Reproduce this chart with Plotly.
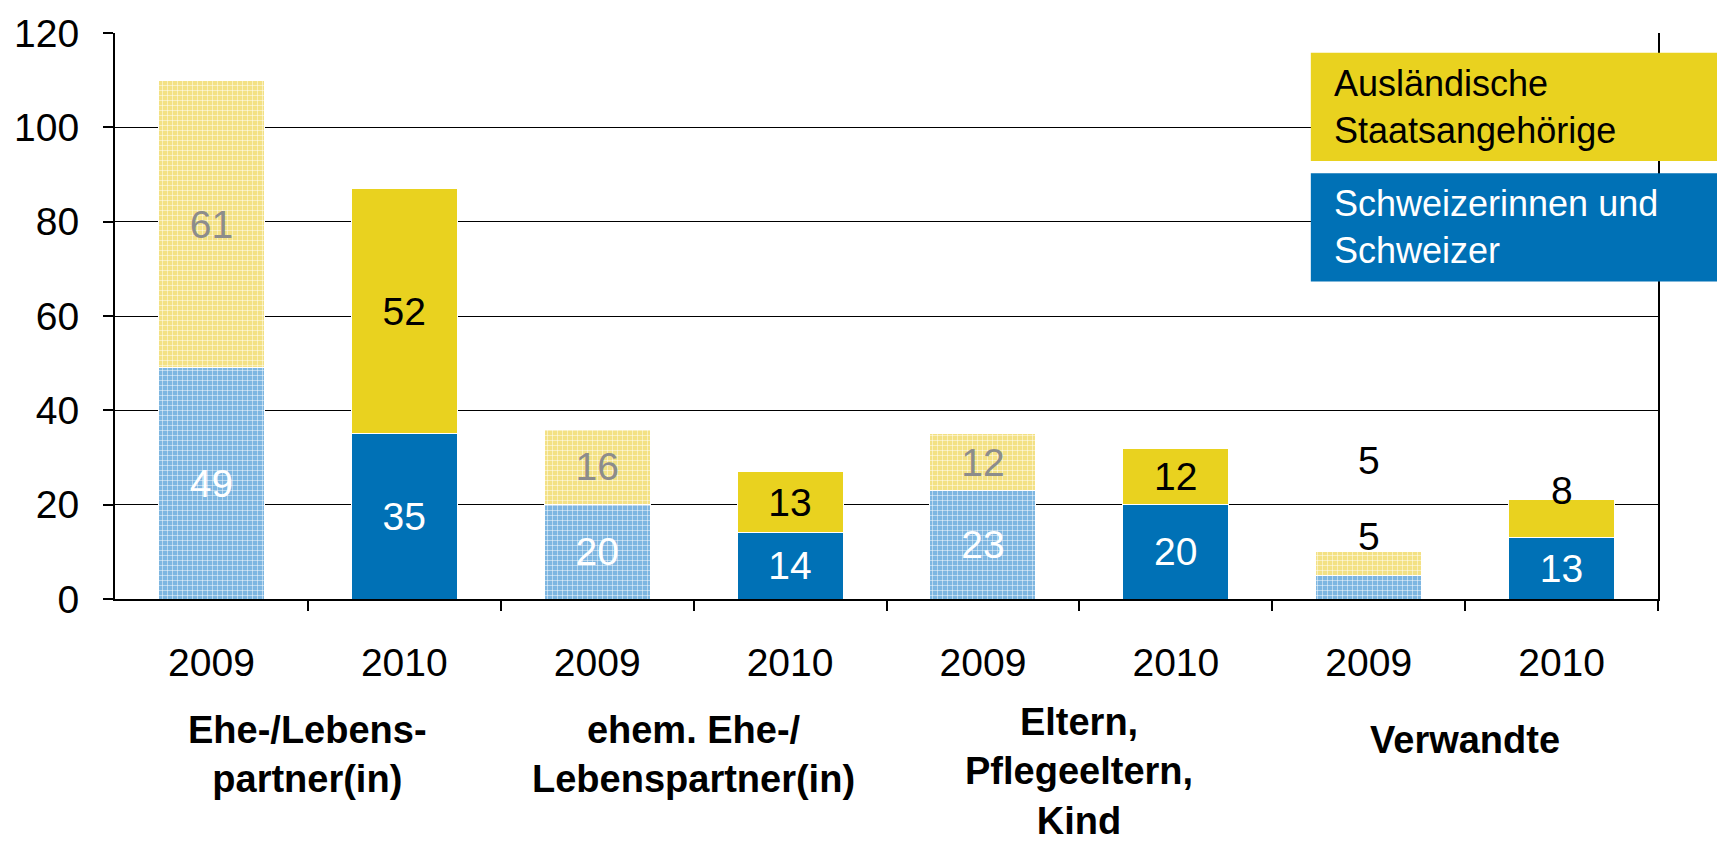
import plotly.graph_objects as go

# ---------------- data ----------------
groups = ["Ehe-/Lebens-<br>partner(in)", "ehem. Ehe-/<br>Lebenspartner(in)",
          "Eltern,<br>Pflegeeltern,<br>Kind", "Verwandte"]
years = ["2009", "2010"]
swiss_2009 = [49, 20, 23, 5]
foreign_2009 = [61, 16, 12, 5]
swiss_2010 = [35, 14, 20, 13]
foreign_2010 = [52, 13, 12, 8]
legend_labels = ["Ausländische<br>Staatsangehörige", "Schweizerinnen und<br>Schweizer"]
y_ticks = [0, 20, 40, 60, 80, 100, 120]

# ---------------- style ----------------
FONT = "Liberation Sans, Arial, sans-serif"
YELLOW = "#E9D21F"
BLUE = "#0071B6"
LYELLOW = "#F3E184"
LBLUE = "#7DB6E1"
FS = 39

n = len(groups)
x2009 = [2 * i for i in range(n)]
x2010 = [2 * i + 1 for i in range(n)]
MIN_INSIDE = 10  # segments smaller than this are labelled outside

def txt(vals):
    return [str(v) if v >= MIN_INSIDE else "" for v in vals]

pat_y = dict(shape="+", fgcolor="white", bgcolor=LYELLOW, size=5, solidity=0.18, fillmode="replace")
pat_b = dict(shape="+", fgcolor="white", bgcolor=LBLUE, size=5, solidity=0.18, fillmode="replace")

common = dict(width=0.55, textposition="inside", insidetextanchor="middle",
              textangle=0, hoverinfo="skip", showlegend=False)

fig = go.Figure()
fig.add_trace(go.Bar(x=x2009, y=swiss_2009, text=txt(swiss_2009),
                     marker=dict(color=LBLUE, pattern=pat_b, line=dict(color="white", width=1)),
                     textfont=dict(color="white", size=FS, family=FONT), **common))
fig.add_trace(go.Bar(x=x2009, y=foreign_2009, text=txt(foreign_2009),
                     marker=dict(color=LYELLOW, pattern=pat_y, line=dict(color="white", width=1)),
                     textfont=dict(color="#8C8C8C", size=FS, family=FONT), **common))
fig.add_trace(go.Bar(x=x2010, y=swiss_2010, text=txt(swiss_2010),
                     marker=dict(color=BLUE, line=dict(color="white", width=1)),
                     textfont=dict(color="white", size=FS, family=FONT), **common))
fig.add_trace(go.Bar(x=x2010, y=foreign_2010, text=txt(foreign_2010),
                     marker=dict(color=YELLOW, line=dict(color="white", width=1)),
                     textfont=dict(color="black", size=FS, family=FONT), **common))

annotations = []
# outside labels for the small last group
i = n - 1
t09 = swiss_2009[i] + foreign_2009[i]
t10 = swiss_2010[i] + foreign_2010[i]
for xv, yv, label in [(x2009[i], t09 + 3.2, swiss_2009[i]),
                      (x2009[i], t09 + 19.4, foreign_2009[i]),
                      (x2010[i], t10 + 2.1, foreign_2010[i])]:
    annotations.append(dict(x=xv, y=yv, xref="x", yref="y", text=str(label),
                            showarrow=False, yanchor="middle",
                            font=dict(size=FS, color="black", family=FONT)))

# group labels (vertical nudges keep the 3-line label inside the page)
label_shift = [0, 0, 8, -10]
for gi, g in enumerate(groups):
    annotations.append(dict(x=2 * gi + 0.5, y=-0.19, xref="x", yref="paper", text="<b>" + g + "</b>",
                            showarrow=False, yanchor="top", align="center",
                            yshift=label_shift[gi],
                            font=dict(size=38, color="black", family=FONT)))

# legend boxes
shapes = [
    dict(type="rect", xref="paper", yref="paper", x0=0.775, x1=1.04, y0=0.774, y1=0.965,
         fillcolor=YELLOW, line=dict(width=0), layer="above"),
    dict(type="rect", xref="paper", yref="paper", x0=0.775, x1=1.04, y0=0.561, y1=0.752,
         fillcolor=BLUE, line=dict(width=0), layer="above"),
]
annotations.append(dict(x=0.789, y=(0.774 + 0.965) / 2, xref="paper", yref="paper",
                        text=legend_labels[0], showarrow=False, xanchor="left", yanchor="middle",
                        align="left", font=dict(size=36, color="black", family=FONT)))
annotations.append(dict(x=0.789, y=(0.561 + 0.752) / 2, xref="paper", yref="paper",
                        text=legend_labels[1], showarrow=False, xanchor="left", yanchor="middle",
                        align="left", font=dict(size=36, color="white", family=FONT)))

tickvals = x2009 + x2010
ticktext = [years[0]] * n + [years[1]] * n

fig.update_layout(
    width=1717, height=845,
    barmode="stack",
    plot_bgcolor="white", paper_bgcolor="white",
    margin=dict(l=115, r=59, t=31, b=246, pad=0),
    font=dict(family=FONT, size=FS, color="black"),
    uniformtext=dict(mode="show", minsize=FS),
    annotations=annotations,
    shapes=shapes,
    xaxis=dict(range=[-0.5, 2 * n - 0.5], tickvals=tickvals, ticktext=ticktext,
               ticks="", showgrid=False, zeroline=False,
               showline=True, linecolor="black", linewidth=2,
               ticklabelstandoff=28, tickfont=dict(size=FS),
               minor=dict(tickvals=[k + 0.5 for k in range(2 * n)], ticks="outside",
                          ticklen=10, tickwidth=1.5, tickcolor="black", showgrid=False)),
    yaxis=dict(range=[0, 120], tickvals=y_ticks, ticks="outside", ticklen=10,
               tickwidth=1.5, tickcolor="black",
               showgrid=True, gridcolor="black", gridwidth=1.3,
               zeroline=False, showline=True, linecolor="black", linewidth=2, mirror=True,
               ticklabelstandoff=16, tickfont=dict(size=FS)),
)

fig.write_html("out.html", config={"displayModeBar": False},
               post_script="document.body.style.margin='0';document.body.style.overflow='hidden';")
